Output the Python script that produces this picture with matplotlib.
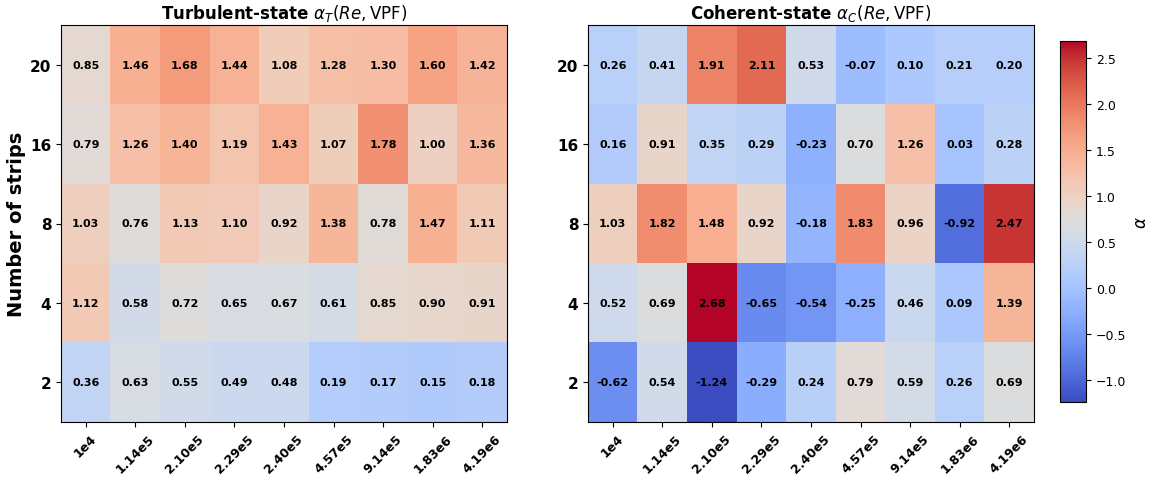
import numpy as np
import matplotlib
matplotlib.use("Agg")
import matplotlib.pyplot as plt
from matplotlib.colors import Normalize

re_labels = ["1e4", "1.14e5", "2.10e5", "2.29e5", "2.40e5", "4.57e5", "9.14e5", "1.83e6", "4.19e6"]
strip_labels = ["20", "16", "8", "4", "2"]

alpha_turbulent = [
    [0.85, 1.46, 1.68, 1.44, 1.08, 1.28, 1.30, 1.60, 1.42],
    [0.79, 1.26, 1.40, 1.19, 1.43, 1.07, 1.78, 1.00, 1.36],
    [1.03, 0.76, 1.13, 1.10, 0.92, 1.38, 0.78, 1.47, 1.11],
    [1.12, 0.58, 0.72, 0.65, 0.67, 0.61, 0.85, 0.90, 0.91],
    [0.36, 0.63, 0.55, 0.49, 0.48, 0.19, 0.17, 0.15, 0.18],
]

alpha_coherent = [
    [0.26, 0.41, 1.91, 2.11, 0.53, -0.07, 0.10, 0.21, 0.20],
    [0.16, 0.91, 0.35, 0.29, -0.23, 0.70, 1.26, 0.03, 0.28],
    [1.03, 1.82, 1.48, 0.92, -0.18, 1.83, 0.96, -0.92, 2.47],
    [0.52, 0.69, 2.68, -0.65, -0.54, -0.25, 0.46, 0.09, 1.39],
    [-0.62, 0.54, -1.24, -0.29, 0.24, 0.79, 0.59, 0.26, 0.69],
]

T = np.array(alpha_turbulent)
C = np.array(alpha_coherent)
vmin = min(T.min(), C.min())
vmax = max(T.max(), C.max())
norm = Normalize(vmin=vmin, vmax=vmax)
cmap = plt.get_cmap("coolwarm")

fig = plt.figure(figsize=(11.52, 4.81), dpi=100)
W, H = 1152, 481
def rect(x0, y0, x1, y1):
    return [x0 / W, 1 - y1 / H, (x1 - x0) / W, (y1 - y0) / H]

ax1 = fig.add_axes(rect(61, 26, 507, 423))
ax2 = fig.add_axes(rect(588, 26, 1034, 423))
cax = fig.add_axes(rect(1060, 42, 1086, 403))

def draw(ax, data, title, ylabel):
    im = ax.imshow(data, cmap=cmap, norm=norm, aspect="auto")
    for i in range(data.shape[0]):
        for j in range(data.shape[1]):
            ax.text(j, i, f"{data[i, j]:.2f}", ha="center", va="center",
                    fontsize=8, fontweight="bold", color="black")
    ax.set_xticks(range(len(re_labels)))
    ax.set_xticklabels(re_labels, rotation=45, fontsize=9, fontweight="bold")
    ax.set_yticks(range(len(strip_labels)))
    ax.set_yticklabels(strip_labels, fontsize=11, fontweight="bold")
    ax.set_title(title, fontsize=12, fontweight="bold", pad=5)
    ax.set_xlabel("$Re$", fontsize=13, fontweight="bold", labelpad=4)
    if ylabel:
        ax.set_ylabel(ylabel, fontsize=14, fontweight="bold", labelpad=3)
    return im

draw(ax1, T, r"Turbulent-state $\alpha_T(Re,\mathrm{VPF})$", "Number of strips")
im = draw(ax2, C, r"Coherent-state $\alpha_C(Re,\mathrm{VPF})$", None)

cb = fig.colorbar(im, cax=cax)
cb.set_label(r"$\alpha$", fontsize=12, labelpad=4)
cb.ax.tick_params(labelsize=9)

fig.savefig("out.png", dpi=100)
